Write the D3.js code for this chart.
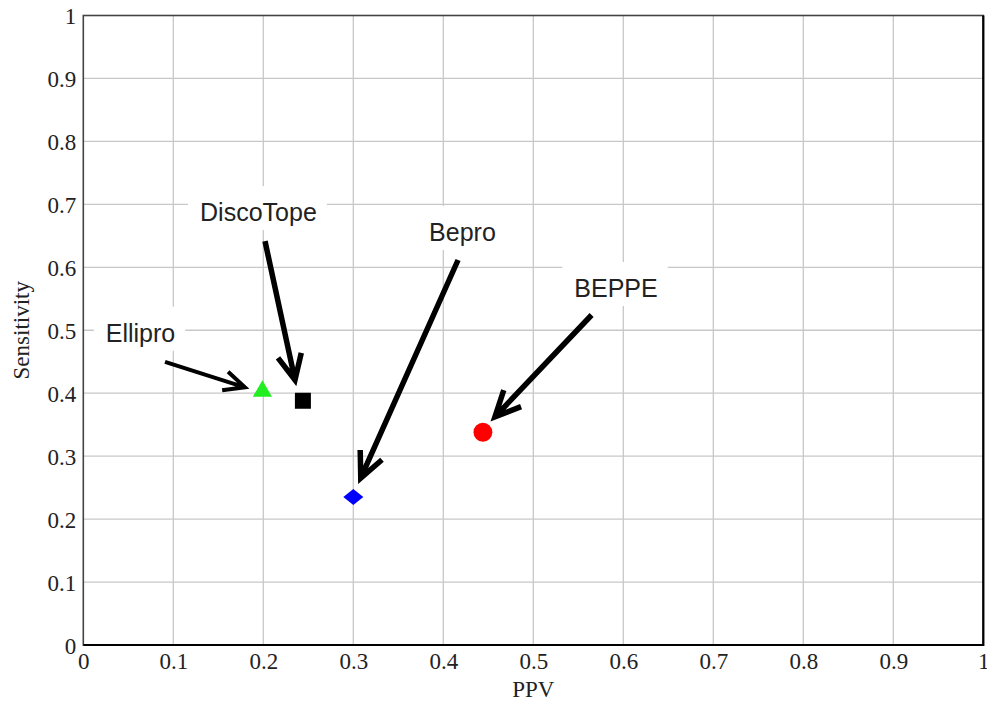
<!DOCTYPE html>
<html>
<head>
<meta charset="utf-8">
<script src="https://cdn.jsdelivr.net/npm/d3@7"></script>
<style>
  html, body { margin: 0; padding: 0; background: #fff; overflow: hidden; }
  svg { display: block; }
  .axis-title { font-family: "Liberation Serif", "Times New Roman", serif; font-size: 23px; fill: #222; }
  .note { font-family: "Liberation Sans", Arial, sans-serif; font-size: 25px; fill: #222; }
</style>
</head>
<body>
<div id="chart"></div>
<script>
// values
const methods = ["Ellipro", "DiscoTope", "Bepro", "BEPPE"];
const ppv = [0.199, 0.244, 0.300, 0.444];
const sensitivity = [0.403, 0.388, 0.235, 0.338];
const colors = ["#22ee22", "#000000", "#0000ff", "#ff0000"];
const shapes = ["triangle", "square", "diamond", "circle"];

const tickValues = [0, 0.1, 0.2, 0.3, 0.4, 0.5, 0.6, 0.7, 0.8, 0.9, 1];
const tickLabels = ["0", "0.1", "0.2", "0.3", "0.4", "0.5", "0.6", "0.7", "0.8", "0.9", "1"];

// label text anchor (data units) and arrow start/end (data units)
const labelX = [0.0636, 0.1946, 0.4213, 0.5919];
const labelY = [0.4818, 0.6734, 0.6418, 0.5528];
const arrowFrom = [[0.0908, 0.4498], [0.2019, 0.6415], [0.4164, 0.6116], [0.5648, 0.5242]];
const arrowTo = [[0.1796, 0.4093], [0.2352, 0.4209], [0.3083, 0.2653], [0.4574, 0.3625]];

const width = 987, height = 704;
const margin = { top: 15.5, right: 3.7, bottom: 59, left: 83.3 };
const innerWidth = width - margin.left - margin.right;
const innerHeight = height - margin.top - margin.bottom;

const xScale = d3.scaleLinear().domain([0, 1]).range([0, innerWidth]);
const yScale = d3.scaleLinear().domain([0, 1]).range([innerHeight, 0]);

const svg = d3.select("#chart")
  .append("svg")
  .attr("width", width)
  .attr("height", height)
  .attr("viewBox", `0 0 ${width} ${height}`);

const innerChart = svg.append("g")
  .attr("transform", `translate(${margin.left},${margin.top})`);

// grid
const inner = tickValues.slice(1, -1);
innerChart.append("g").selectAll("line")
  .data(inner)
  .join("line")
  .attr("x1", d => xScale(d)).attr("x2", d => xScale(d))
  .attr("y1", 0).attr("y2", innerHeight)
  .attr("stroke", "#c8c8c8").attr("stroke-width", 1.3);
innerChart.append("g").selectAll("line")
  .data(inner)
  .join("line")
  .attr("y1", d => yScale(d)).attr("y2", d => yScale(d))
  .attr("x1", 0).attr("x2", innerWidth)
  .attr("stroke", "#c8c8c8").attr("stroke-width", 1.3);

// axes
const fmt = d => tickLabels[tickValues.indexOf(d)];
const bottomAxisG = innerChart.append("g")
  .attr("transform", `translate(0,${innerHeight})`)
  .call(d3.axisBottom(xScale).tickValues(tickValues).tickFormat(fmt).tickSize(0).tickPadding(8));
const leftAxisG = innerChart.append("g")
  .call(d3.axisLeft(yScale).tickValues(tickValues).tickFormat(fmt).tickSize(0).tickPadding(7));
[bottomAxisG, leftAxisG].forEach(g => {
  g.attr("font-family", "Liberation Serif, Times New Roman, serif").attr("font-size", 23);
  g.select(".domain").remove();
  g.selectAll(".tick text").attr("fill", "#222");
});
leftAxisG.selectAll(".tick text").attr("dy", "0.36em");

// annotations: white boxes, labels, arrows
const notes = innerChart.append("g");
methods.forEach((m, i) => {
  const g = notes.append("g");
  const box = g.append("rect").attr("fill", "#fff");
  const t = g.append("text")
    .attr("class", "note")
    .attr("text-anchor", "middle")
    .attr("x", xScale(labelX[i]))
    .attr("y", yScale(labelY[i]))
    .text(m);
  const bb = t.node().getBBox();
  box.attr("x", bb.x - 12).attr("y", bb.y - 12)
    .attr("width", bb.width + 22).attr("height", bb.height + 16);
});

methods.forEach((m, i) => {
  const x0 = xScale(arrowFrom[i][0]), y0 = yScale(arrowFrom[i][1]);
  const x1 = xScale(arrowTo[i][0]), y1 = yScale(arrowTo[i][1]);
  const ang = Math.atan2(y0 - y1, x0 - x1);
  const len = i === 0 ? 23 : 28, spread = 0.44;
  const a1 = [x1 + len * Math.cos(ang - spread), y1 + len * Math.sin(ang - spread)];
  const a2 = [x1 + len * Math.cos(ang + spread), y1 + len * Math.sin(ang + spread)];
  const sw = i === 0 ? 4 : 5.5;
  notes.append("path")
    .attr("d", `M${x0},${y0}L${x1},${y1}M${a1[0]},${a1[1]}L${x1},${y1}L${a2[0]},${a2[1]}`)
    .attr("fill", "none")
    .attr("stroke", "#000")
    .attr("stroke-width", sw)
    .attr("stroke-linejoin", "miter")
    .attr("stroke-miterlimit", 10);
});

// frame
innerChart.append("rect")
  .attr("width", innerWidth).attr("height", innerHeight)
  .attr("fill", "none").attr("stroke", "#444").attr("stroke-width", 1.6);
innerChart.append("path")
  .attr("d", `M${innerWidth},0V${innerHeight}H0`)
  .attr("fill", "none").attr("stroke", "#000").attr("stroke-width", 2.2);

// markers
const symbolPath = (s) => {
  if (s === "diamond") return "M-10,0L0,-8L10,0L0,8Z";
  if (s === "triangle") return d3.symbol(d3.symbolTriangle, 160)();
  if (s === "square") return d3.symbol(d3.symbolSquare, 256)();
  return d3.symbol(d3.symbolCircle, 280)();
};
innerChart.append("g").selectAll("path")
  .data(methods)
  .join("path")
  .attr("transform", (d, i) => `translate(${xScale(ppv[i])},${yScale(sensitivity[i])})`)
  .attr("d", (d, i) => symbolPath(shapes[i]))
  .attr("fill", (d, i) => colors[i]);

// axis titles
svg.append("text")
  .attr("class", "axis-title")
  .attr("text-anchor", "middle")
  .attr("x", margin.left + innerWidth / 2)
  .attr("y", 697)
  .text("PPV");

svg.append("text")
  .attr("class", "axis-title")
  .attr("text-anchor", "middle")
  .attr("transform", `translate(29,${margin.top + innerHeight / 2}) rotate(-90)`)
  .text("Sensitivity");
</script>
</body>
</html>
